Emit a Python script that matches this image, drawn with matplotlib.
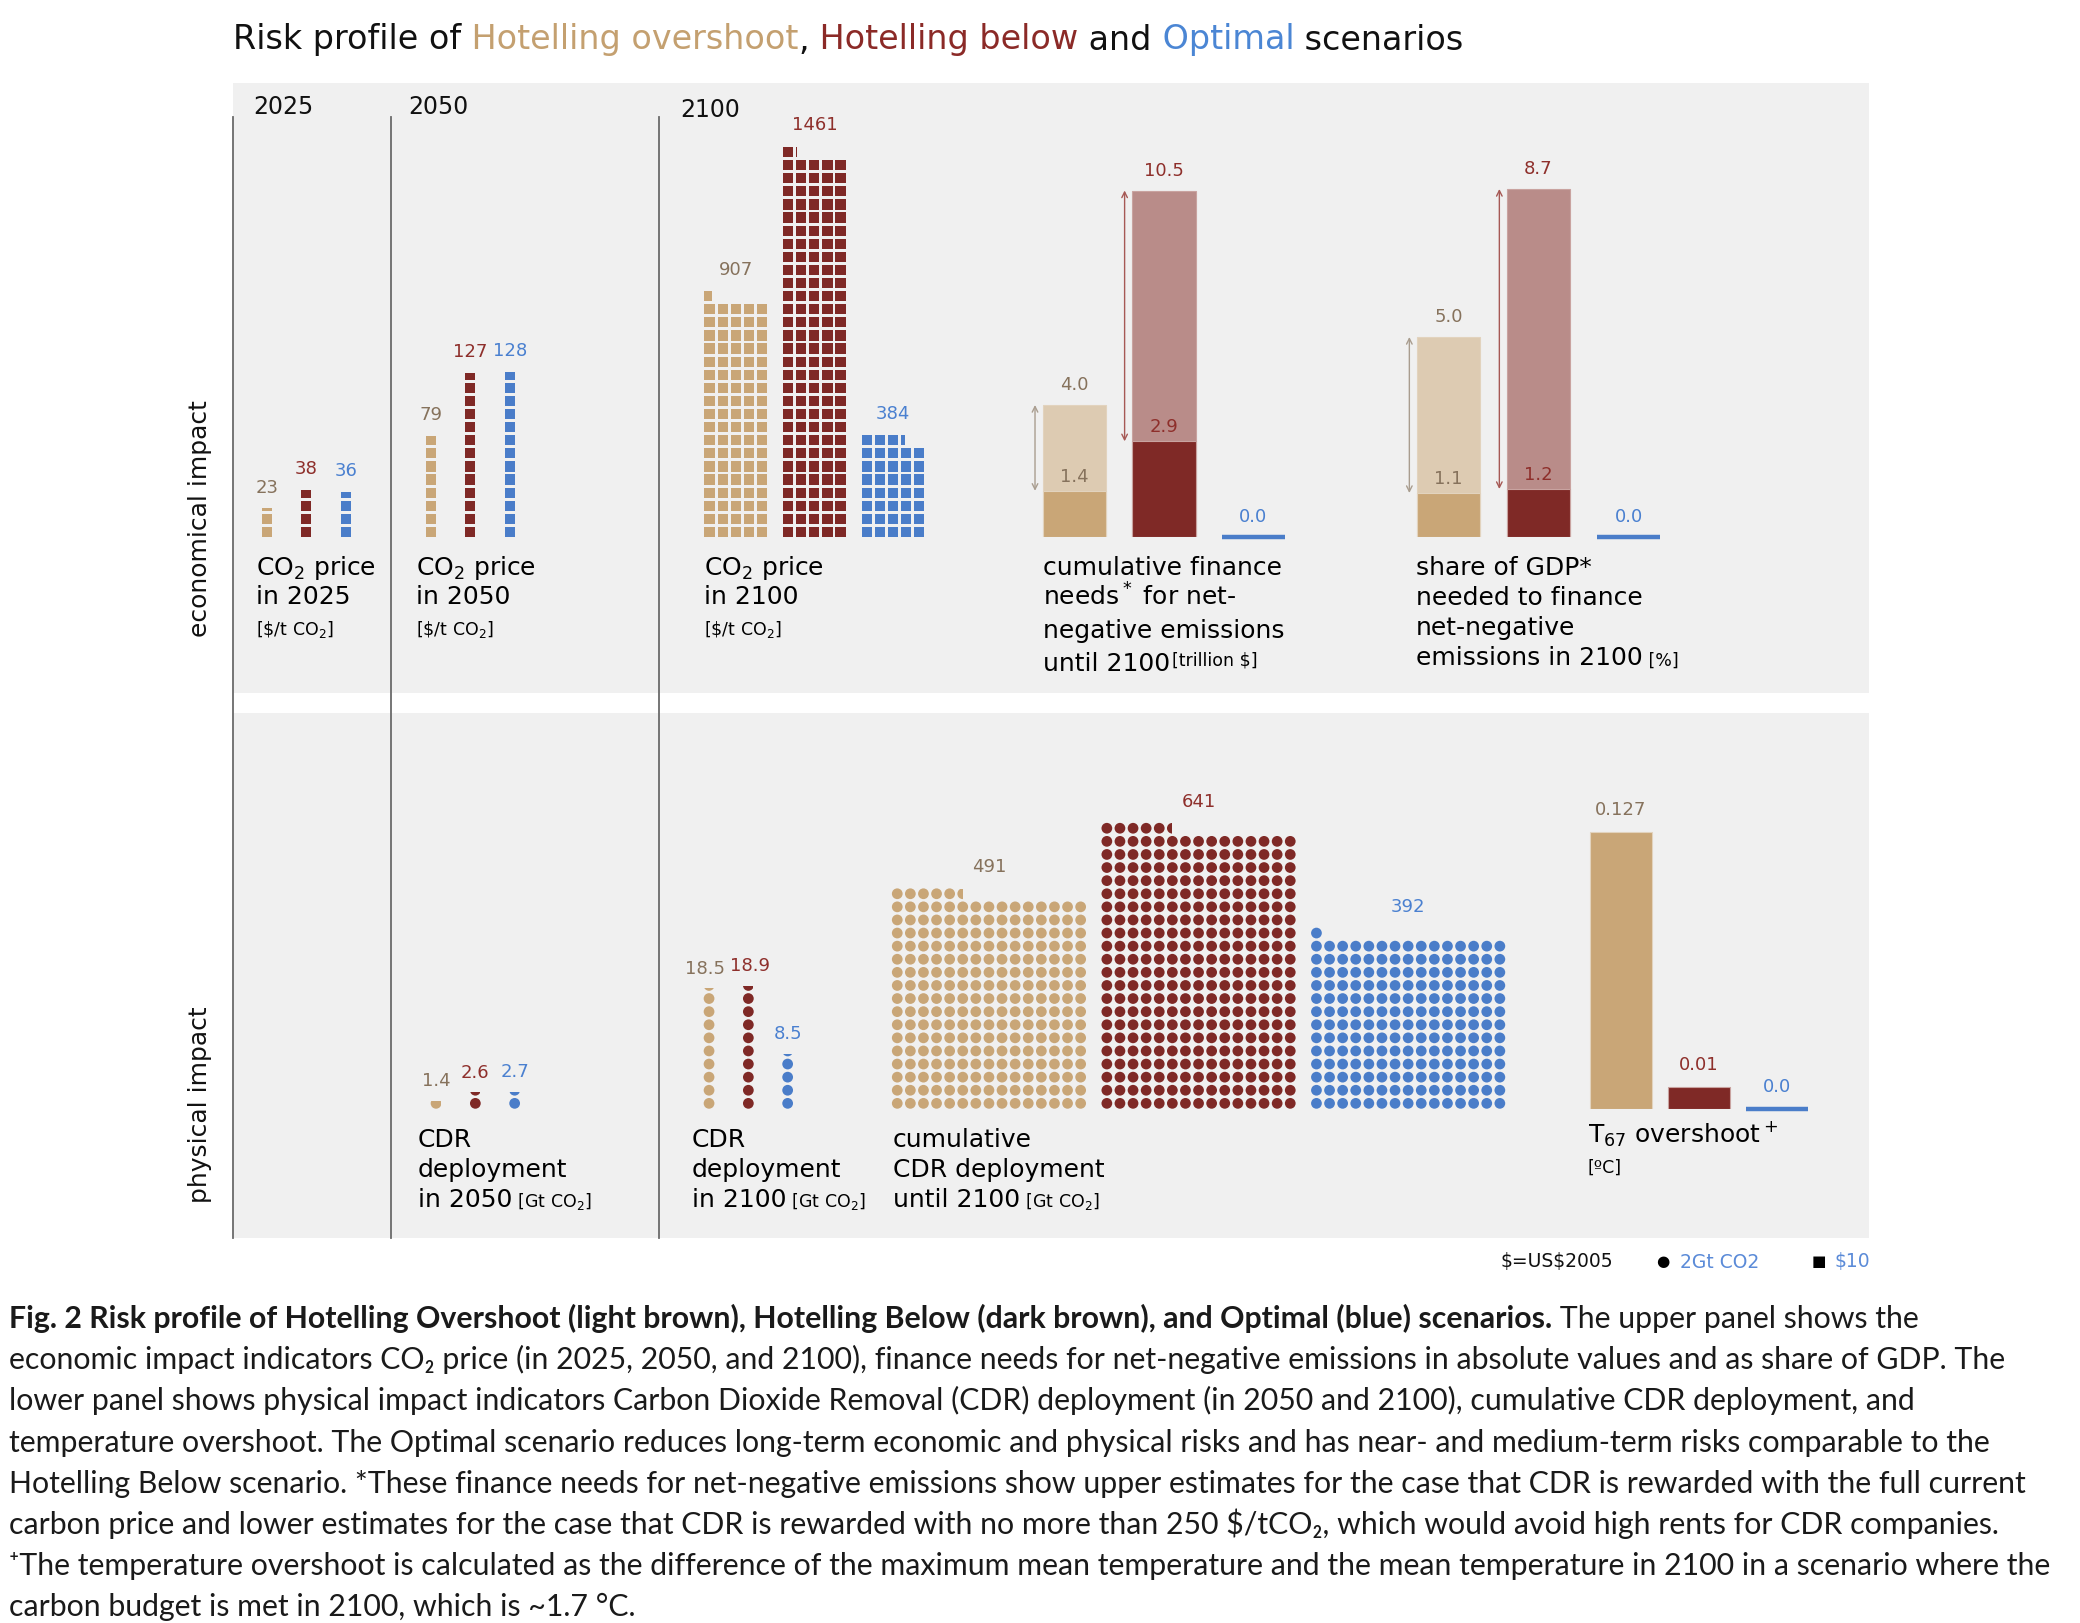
import matplotlib
matplotlib.use("Agg")
import matplotlib.pyplot as plt
from matplotlib.patches import Rectangle, Circle
import numpy as np

# ---------------- data ----------------
scenarios = ["Hotelling overshoot", "Hotelling below", "Optimal"]
co2_price_2025 = [23, 38, 36]          # $/t CO2
co2_price_2050 = [79, 127, 128]
co2_price_2100 = [907, 1461, 384]
finance_upper = [4.0, 10.5, 0.0]       # trillion $
finance_lower = [1.4, 2.9, 0.0]
gdp_share_upper = [5.0, 8.7, 0.0]      # %
gdp_share_lower = [1.1, 1.2, 0.0]
cdr_2050 = [1.4, 2.6, 2.7]             # Gt CO2
cdr_2100 = [18.5, 18.9, 8.5]
cdr_cumulative = [491, 641, 392]
t67_overshoot = [0.127, 0.01, 0.0]    # degC
t67_labels = ["0.127", "0.01", "0.0"]
price_unit = 10    # $ per square
cdr_unit = 2       # Gt CO2 per dot

# ---------------- style ----------------
W, H, DPI = 2080, 1623, 100
BG = "#F0F0F0"
TAN, DARK, BLUE = "#C9A677", "#7F2926", "#4A7DC9"
LT_TAN, LT_ROSE = "#DDCBB2", "#B98C89"
COLORS = [TAN, DARK, BLUE]
LIGHT = [LT_TAN, LT_ROSE, BLUE]
EDGE = ["#E2D3BE", "#C9A3A0", BLUE]
TXT = ["#86725C", "#8E2F2B", "#4A80D0"]
ARROW = ["#A99D8F", "#A65955", BLUE]
PITCH = 13.1
CELL = 0.78
VAL_FS = 13
LAB_FS = 18
SMALL_FS = 12.5
PX2PT = 0.72

fig = plt.figure(figsize=(W / DPI, H / DPI), dpi=DPI, facecolor="white")
ov = fig.add_axes([0, 0, 1, 1], zorder=0)
ov.set_xlim(0, W)
ov.set_ylim(H, 0)
ov.axis("off")

# panels and separators
ov.add_patch(Rectangle((233, 82.5), 1635.5, 610.5, facecolor=BG, lw=0))
ov.add_patch(Rectangle((233, 713.3), 1635.5, 524.3, facecolor=BG, lw=0))
for xv in (233, 391, 659):
    ov.plot([xv, xv], [117, 1237.6], color="#6a6a6a", lw=1.3)


def px_axes(left, baseline, width, height):
    ax = fig.add_axes([left / W, 1 - baseline / H, width / W, height / H], zorder=2)
    ax.axis("off")
    ax.patch.set_alpha(0)
    return ax


def grid_axes(left, baseline, ncols, nrows):
    ax = px_axes(left, baseline, ncols * PITCH, nrows * PITCH)
    ax.set_xlim(0, ncols)
    ax.set_ylim(0, nrows)
    return ax


def waffle(ax, value, unit, ncols, x0, color, shape):
    n = value / unit
    full_rows = int(n // ncols)
    rem = n - full_rows * ncols
    cells = [(c, r, 1.0, 1.0) for r in range(full_rows) for c in range(ncols)]
    nfull = int(np.floor(rem + 1e-9))
    cells += [(c, full_rows, 1.0, 1.0) for c in range(nfull)]
    frac = rem - nfull
    if frac > 1e-6:
        if ncols == 1:
            cells.append((0, full_rows, 1.0, frac))
        else:
            cells.append((nfull, full_rows, frac, 1.0))
    m = (1 - CELL) / 2
    top = 0
    for c, r, fw, fh in cells:
        x, y = x0 + c + m, r + m
        if shape == "square":
            ax.add_patch(Rectangle((x, y), CELL * fw, CELL * fh, facecolor=color, lw=0))
        else:
            circ = Circle((x0 + c + 0.5, r + 0.5), CELL / 2 + 0.02, facecolor=color, lw=0)
            ax.add_patch(circ)
            if fw < 1 or fh < 1:
                clip = Rectangle((x - 0.05, y - 0.05), CELL * fw + 0.05, CELL * fh + 0.05,
                                 transform=ax.transData)
                circ.set_clip_path(clip)
        top = max(top, r + (fh if ncols == 1 else 1.0))
    return top


def waffle_group(left, baseline, values, unit, ncols, stride, shape, fmt, nudge=(0, 0, 0)):
    ax = grid_axes(left, baseline, stride * 2 + ncols, 40)
    for i, v in enumerate(values):
        x0 = i * stride
        top = waffle(ax, v, unit, ncols, x0, COLORS[i], shape)
        ax.annotate(fmt(v), xy=(x0 + ncols / 2, top), xytext=(nudge[i], 20 * PX2PT),
                    textcoords="offset points", ha="center", va="center",
                    fontsize=VAL_FS, color=TXT[i], annotation_clip=False)
    return ax


# ---------- upper panel: CO2 price waffles ($10 per square) ----------
UP_BASE = 538.5
waffle_group(260.5, UP_BASE, co2_price_2025, price_unit, 1, 3, "square", lambda v: f"{v:.0f}")
waffle_group(424.5, UP_BASE, co2_price_2050, price_unit, 1, 3, "square", lambda v: f"{v:.0f}")
waffle_group(703.0, UP_BASE, co2_price_2100, price_unit, 5, 6, "square", lambda v: f"{v:.0f}")


def range_bars(left, baseline, stride, px_per_unit, ymax, upper, lower, width):
    ax = px_axes(left, baseline, 3 * stride, ymax * px_per_unit)
    ax.set_xlim(-0.5, 2.5)
    ax.set_ylim(0, ymax)
    for i in range(3):
        if upper[i] > 0:
            ax.bar(i, upper[i], width=width, color=LIGHT[i], edgecolor=EDGE[i], lw=0.8)
            ax.bar(i, lower[i], width=width, color=COLORS[i], edgecolor=EDGE[i], lw=0.8)
            ax.annotate(f"{lower[i]:.1f}", xy=(i, lower[i]), xytext=(0, 14 * PX2PT),
                        textcoords="offset points", ha="center", va="center",
                        fontsize=VAL_FS, color=TXT[i], annotation_clip=False)
            xa = i - width / 2 - 0.085
            ax.annotate("", xy=(xa, upper[i]), xytext=(xa, lower[i]),
                        arrowprops=dict(arrowstyle="<->", color=ARROW[i], lw=1.0,
                                        shrinkA=0, shrinkB=0, mutation_scale=10),
                        annotation_clip=False)
        else:
            ax.hlines(0.0, i - width / 2, i + width / 2, color=COLORS[i], lw=3.2,
                      clip_on=False)
        ax.annotate(f"{upper[i]:.1f}", xy=(i, upper[i]), xytext=(0, 20 * PX2PT),
                    textcoords="offset points", ha="center", va="center",
                    fontsize=VAL_FS, color=TXT[i], annotation_clip=False)
    return ax


range_bars(1029.5, 537, 89.6, 33.0, 11.0, finance_upper, finance_lower, 0.707)
range_bars(1403.5, 537, 90.0, 40.0, 9.5, gdp_share_upper, gdp_share_lower, 0.70)

# ---------- lower panel: CDR dots (2 Gt per dot) ----------
LO_BASE = 1109.9
waffle_group(429.5, LO_BASE, cdr_2050, cdr_unit, 1, 3, "dot", lambda v: f"{v:.1f}")
waffle_group(702.5, LO_BASE, cdr_2100, cdr_unit, 1, 3, "dot", lambda v: f"{v:.1f}",
             nudge=(-3, 1.5, 0))
waffle_group(890.7, LO_BASE, cdr_cumulative, cdr_unit, 15, 16, "dot", lambda v: f"{v:.0f}")

# temperature overshoot bars
tax = px_axes(1582, 1108.6, 3 * 78, 0.14 * 2181)
tax.set_xlim(-0.5, 2.5)
tax.set_ylim(0, 0.14)
for i, v in enumerate(t67_overshoot):
    if v > 0:
        tax.bar(i, v, width=0.79, color=COLORS[i], edgecolor=EDGE[i], lw=0.8)
    else:
        tax.hlines(0.0, i - 0.395, i + 0.395, color=COLORS[i], lw=3.2, clip_on=False)
    tax.annotate(t67_labels[i], xy=(i, v), xytext=(0, 22 * PX2PT), textcoords="offset points",
                 ha="center", va="center", fontsize=VAL_FS, color=TXT[i],
                 annotation_clip=False)

# ---------------- texts ----------------
def chain(prev, s, top=False, dx=0, **kw):
    return ov.annotate(s, xy=(1, 1 if top else 0), xycoords=prev,
                       xytext=(dx, 0), textcoords="offset points",
                       va="top" if top else "bottom", ha="left", **kw)


# title
TFS = 24
t = ov.text(233, 40, "Risk profile of", fontsize=TFS, va="center", ha="left", color="#111111")
for s, c in [(" Hotelling overshoot", "#C4A070"), (",", "#111111"),
             (" Hotelling below", "#8B2A27"), (" and", "#111111"),
             (" Optimal", "#4B86D4"), (" scenarios", "#111111")]:
    t = chain(t, s, fontsize=TFS, color=c)

# year labels and side labels
for x, y, s in [(253, 114.5, "2025"), (408.5, 114.5, "2050"), (680, 117, "2100")]:
    ov.text(x, y, s, fontsize=17, va="baseline", ha="left", color="#111111")
ov.text(200, 519, "economical impact", rotation=90, ha="center", va="center",
        fontsize=18, color="#111111")
ov.text(200, 1105, "physical impact", rotation=90, ha="center", va="center",
        fontsize=18, color="#111111")

# upper labels
for x, yr in [(255.5, "2025"), (416.5, "2050"), (704, "2100")]:
    ov.text(x, 575, r"CO$_2$ price", fontsize=LAB_FS, va="baseline", ha="left")
    ov.text(x, 604, f"in {yr}", fontsize=LAB_FS, va="baseline", ha="left")
    ov.text(x, 635, r"[\$/t CO$_2$]", fontsize=SMALL_FS, va="baseline", ha="left")

ov.text(1043, 575, "cumulative finance", fontsize=LAB_FS, va="baseline", ha="left")
ov.text(1043, 606, r"needs$^*$ for net-", fontsize=LAB_FS, va="baseline", ha="left")
ov.text(1043, 638, "negative emissions", fontsize=LAB_FS, va="baseline", ha="left")
t = ov.text(1043, 671, "until 2100", fontsize=LAB_FS, va="baseline", ha="left")
chain(t, r"[trillion \$]", top=True, dx=1, fontsize=SMALL_FS)

ov.text(1416, 575, "share of GDP*", fontsize=LAB_FS, va="baseline", ha="left")
ov.text(1416, 605, "needed to finance", fontsize=LAB_FS, va="baseline", ha="left")
ov.text(1416, 635, "net-negative", fontsize=LAB_FS, va="baseline", ha="left")
t = ov.text(1416, 665, "emissions in 2100", fontsize=LAB_FS, va="baseline", ha="left")
chain(t, " [%]", fontsize=SMALL_FS)

# lower labels
for x, l1, l2, l3 in [(418, "CDR", "deployment", "in 2050"),
                      (692, "CDR", "deployment", "in 2100"),
                      (893, "cumulative", "CDR deployment", "until 2100")]:
    ov.text(x, 1147, l1, fontsize=LAB_FS, va="baseline", ha="left")
    ov.text(x, 1177, l2, fontsize=LAB_FS, va="baseline", ha="left")
    t = ov.text(x, 1207, l3, fontsize=LAB_FS, va="baseline", ha="left")
    chain(t, r" [Gt CO$_2$]", fontsize=SMALL_FS)

ov.text(1587.5, 1143, r"T$_{67}$ overshoot$^+$", fontsize=LAB_FS, va="baseline", ha="left")
ov.text(1587.5, 1173, "[ºC]", fontsize=SMALL_FS, va="baseline", ha="left")

# footer legend
ov.text(1500, 1262, r"\$=US\$2005", fontsize=13.5, va="center", ha="left", color="#111111")
ov.text(1656, 1262, "●", fontsize=11, va="center", ha="left", color="black")
ov.text(1680, 1262, "2Gt CO2", fontsize=13.5, va="center", ha="left", color="#5B8BD8")
ov.text(1812, 1262, "■", fontsize=11, va="center", ha="left", color="black")
ov.text(1835, 1262, r"\$10", fontsize=13.5, va="center", ha="left", color="#5B8BD8")

# caption
CFS = 21.8
CAP = dict(fontsize=CFS, va="baseline", ha="left", color="#1a1a1a",
           family=["Lato", "DejaVu Sans"])
cap_lines = [
    None,
    "economic impact indicators CO₂ price (in 2025, 2050, and 2100), finance needs for net-negative emissions in absolute values and as share of GDP. The",
    "lower panel shows physical impact indicators Carbon Dioxide Removal (CDR) deployment (in 2050 and 2100), cumulative CDR deployment, and",
    "temperature overshoot. The Optimal scenario reduces long-term economic and physical risks and has near- and medium-term risks comparable to the",
    "Hotelling Below scenario. *These finance needs for net-negative emissions show upper estimates for the case that CDR is rewarded with the full current",
    "carbon price and lower estimates for the case that CDR is rewarded with no more than 250 \\$/tCO₂, which would avoid high rents for CDR companies.",
    "⁺The temperature overshoot is calculated as the difference of the maximum mean temperature and the mean temperature in 2100 in a scenario where the",
    "carbon budget is met in 2100, which is ~1.7 °C.",
]
y0, dy = 1328, 41.2
t = ov.text(9, y0, "Fig. 2 Risk profile of Hotelling Overshoot (light brown), Hotelling Below (dark brown), and Optimal (blue) scenarios.",
            fontweight="bold", **CAP)
ov.annotate(" The upper panel shows the", xy=(1, 0), xycoords=t, va="bottom", ha="left",
            fontsize=CFS, color="#1a1a1a", family=["Lato", "DejaVu Sans"])
for k in range(1, 8):
    ov.text(9, y0 + k * dy, cap_lines[k], **CAP)

fig.savefig("out.png", dpi=DPI, facecolor="white")
